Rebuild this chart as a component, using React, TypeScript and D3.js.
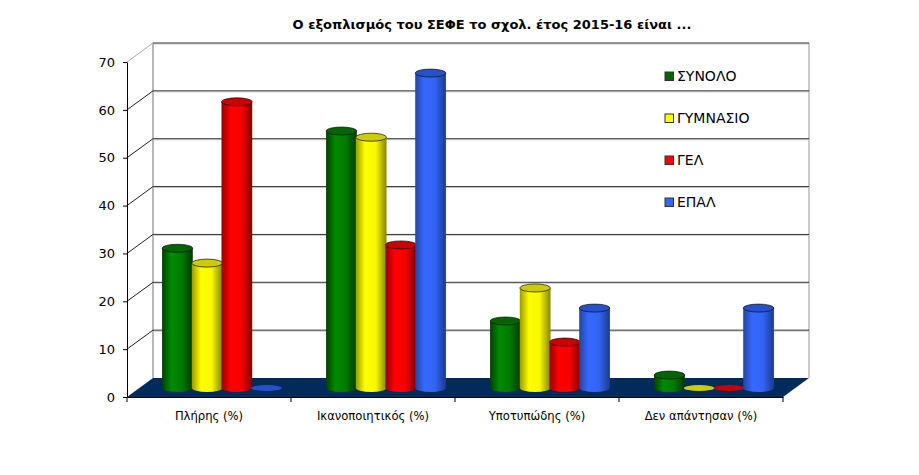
import React, { useEffect, useRef } from 'react';
import * as d3 from 'd3';

const width = 919;
const height = 475;

const titleText = 'Ο εξοπλισμός του ΣΕΦΕ το σχολ. έτος 2015-16 είναι ...';
const categories = ['Πλήρης (%)', 'Ικανοποιητικός (%)', 'Υποτυπώδης (%)', 'Δεν απάντησαν (%)'];
const seriesNames = ['ΣΥΝΟΛΟ', 'ΓΥΜΝΑΣΙΟ', 'ΓΕΛ', 'ΕΠΑΛ'];
const synolo = [29.2, 53.7, 14, 2.7];
const gymnasio = [26.1, 52.4, 20.9, 0];
const gel = [59.8, 29.9, 9.6, 0];
const epal = [0, 65.8, 16.7, 16.7];
const seriesValues = [synolo, gymnasio, gel, epal];
const yTicks = [0, 10, 20, 30, 40, 50, 60, 70];

const sideColors = [
  ['#004000', '#008a00', '#007a00', '#003800'],
  ['#9a9a00', '#ffff00', '#f8f800', '#858500'],
  ['#960000', '#ff0000', '#f80000', '#800000'],
  ['#24449f', '#3668ff', '#3264f4', '#1f3a8a'],
];
const topColors = ['#006400', '#cccc00', '#cc0000', '#2650cc'];
const legendColors = ['#006600', '#ffff00', '#ff0000', '#3366ff'];
const legendRows = [76, 118, 160, 202];

const fontFamily = '"DejaVu Sans", sans-serif';

const App = () => {
  const svgRef = useRef<SVGSVGElement>(null);

  useEffect(() => {
    const svg = d3.select(svgRef.current);
    svg.selectAll('*').remove();

    // front plane of the fake 3d box
    const x0 = 127;
    const x1 = 783;
    const depthX = 26;
    const depthY = -19;
    const y = d3.scaleLinear().domain([0, 70]).range([397, 62]);

    svg
      .append('text')
      .attr('x', 492)
      .attr('y', 29)
      .attr('text-anchor', 'middle')
      .attr('font-family', fontFamily)
      .attr('font-weight', 'bold')
      .attr('font-size', 13)
      .attr('fill', '#000')
      .text(titleText);

    const defs = svg.append('defs');
    sideColors.forEach((c, i) => {
      const g = defs.append('linearGradient').attr('id', `cyl${i}`);
      g.append('stop').attr('offset', '0%').attr('stop-color', c[0]);
      g.append('stop').attr('offset', '30%').attr('stop-color', c[1]);
      g.append('stop').attr('offset', '65%').attr('stop-color', c[2]);
      g.append('stop').attr('offset', '100%').attr('stop-color', c[3]);
    });

    // floor
    svg
      .append('path')
      .attr('d', `M${x0},${y(0)}L${x0 + depthX},${y(0) + depthY}L${x1 + depthX},${y(0) + depthY}L${x1},${y(0)}Z`)
      .attr('fill', '#002b5c');

    // walls + gridlines
    svg
      .append('path')
      .attr('d', `M${x0 + depthX},${y(0) + depthY}V${y(70) + depthY}`)
      .attr('stroke', '#b8b8b8')
      .attr('stroke-width', 2)
      .attr('fill', 'none');
    svg
      .append('path')
      .attr('d', `M${x1 + depthX},${y(0) + depthY}V${y(70) + depthY}`)
      .attr('stroke', '#b8b8b8')
      .attr('stroke-width', 1.5)
      .attr('fill', 'none');

    yTicks.slice(1).forEach((t) => {
      svg
        .append('line')
        .attr('x1', x0 + depthX)
        .attr('x2', x1 + depthX)
        .attr('y1', y(t) + depthY + 1)
        .attr('y2', y(t) + depthY + 1)
        .attr('stroke', '#c8c8c8');
      svg
        .append('line')
        .attr('x1', x0 + depthX)
        .attr('x2', x1 + depthX)
        .attr('y1', y(t) + depthY)
        .attr('y2', y(t) + depthY)
        .attr('stroke', '#333');
      svg
        .append('line')
        .attr('x1', x0)
        .attr('x2', x0 + depthX)
        .attr('y1', y(t))
        .attr('y2', y(t) + depthY)
        .attr('stroke', t === 70 ? '#a8a8a8' : '#222');
    });

    // cylinders
    const xBand = d3.scaleBand().domain(categories).range([x0 + depthX / 2, x1 + depthX / 2]);
    const xInner = d3
      .scaleBand()
      .domain(seriesNames)
      .range([0, xBand.bandwidth()])
      .paddingOuter(0.76);
    const rx = xInner.bandwidth() / 2 + 0.5;
    const ry = 4;
    const base = 388;
    const perUnit = y(0) - y(1);

    seriesNames.forEach((name, s) => {
      categories.forEach((cat, c) => {
        const v = seriesValues[s][c];
        const cx = (xBand(cat) as number) + (xInner(name) as number) + xInner.bandwidth() / 2;
        const top = base - v * perUnit;
        if (v > 0) {
          svg
            .append('path')
            .attr(
              'd',
              `M${cx - rx},${top}V${base}A${rx},${ry} 0 0 0 ${cx + rx},${base}V${top}Z`,
            )
            .attr('fill', `url(#cyl${s})`);
        }
        svg
          .append('ellipse')
          .attr('cx', cx)
          .attr('cy', top)
          .attr('rx', rx)
          .attr('ry', ry - (v > 0 ? 0 : 1))
          .attr('fill', topColors[s])
          .attr('stroke', v > 0 ? '#111' : 'none')
          .attr('stroke-width', 0.7);
      });
    });

    // axes
    const yAxis = svg
      .append('g')
      .attr('transform', `translate(${x0},0)`)
      .call(d3.axisLeft(y).tickValues(yTicks).tickSize(4).tickPadding(8).tickSizeOuter(0));
    yAxis.selectAll('text').attr('font-size', 13).attr('font-family', fontFamily).attr('fill', '#000');

    const xAxis = svg
      .append('g')
      .attr('transform', `translate(0,${y(0)})`)
      .call(
        d3
          .axisBottom(d3.scaleBand().domain(categories).range([x0, x1]))
          .tickSize(0)
          .tickPadding(15)
          .tickSizeOuter(0),
      );
    xAxis.selectAll('text').attr('font-size', 11.6).attr('font-family', fontFamily).attr('fill', '#000');
    d3.range(categories.length + 1).forEach((i) => {
      const tx = x0 + (i * (x1 - x0)) / categories.length;
      svg
        .append('line')
        .attr('x1', tx)
        .attr('x2', tx)
        .attr('y1', y(0))
        .attr('y2', y(0) + 5)
        .attr('stroke', '#000');
    });

    // legend
    seriesNames.forEach((name, i) => {
      svg
        .append('rect')
        .attr('x', 665)
        .attr('y', legendRows[i] - 4)
        .attr('width', 8.5)
        .attr('height', 8.5)
        .attr('fill', legendColors[i])
        .attr('stroke', '#333');
      svg
        .append('text')
        .attr('x', 677)
        .attr('y', legendRows[i] + 5)
        .attr('font-size', 14)
        .attr('font-family', fontFamily)
        .attr('fill', '#000')
        .text(name);
    });
  }, []);

  return (
    <svg
      ref={svgRef}
      width={width}
      height={height}
      style={{ position: 'absolute', left: 0, top: 0, background: '#fff' }}
    />
  );
};

export default App;
